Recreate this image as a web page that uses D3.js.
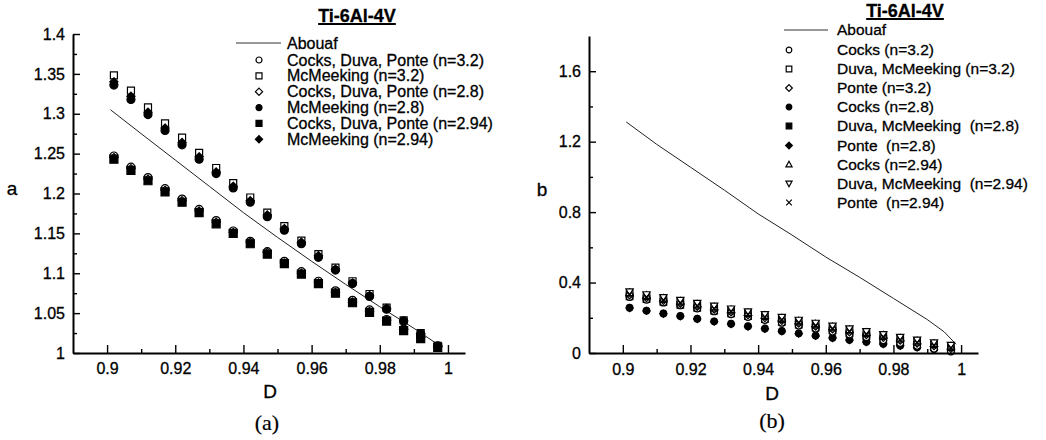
<!DOCTYPE html>
<html>
<head>
<meta charset="utf-8">
<script src="https://cdn.jsdelivr.net/npm/d3@7"></script>
<style>
  body { margin: 0; background: #fff; }
  svg { display: block; }
  text { font-family: "Liberation Sans", Arial, Helvetica, sans-serif; fill: #000;
         stroke: #000; stroke-width: 0.3px; }
</style>
</head>
<body>
<svg id="fig" width="1046" height="440"></svg>
<script>
// ---------------------------------------------------------------
// Data: relative density D and yield-surface parameters a, b
// ---------------------------------------------------------------
const D = [0.902, 0.907, 0.912, 0.917, 0.922, 0.927, 0.932, 0.937, 0.942, 0.947,
           0.952, 0.957, 0.962, 0.967, 0.972, 0.977, 0.982, 0.987, 0.992, 0.997];

// Abouaf reference curves
const abouafD_a = [0.901, 0.91, 0.92, 0.93, 0.94, 0.95, 0.96, 0.97, 0.98, 0.99, 0.998];
const abouafA   = [1.305, 1.275, 1.242, 1.209, 1.176, 1.145, 1.115, 1.086, 1.058, 1.031, 1.008];
const abouafD_b = [0.901, 0.91, 0.92, 0.93, 0.94, 0.95, 0.96, 0.97, 0.98, 0.99, 0.995, 0.9985];
const abouafB   = [1.312, 1.185, 1.055, 0.925, 0.79, 0.67, 0.545, 0.43, 0.31, 0.19, 0.12, 0.05];

// Panel (a): parameter a
const aCocks32  = [1.247, 1.233, 1.220, 1.206, 1.193, 1.180, 1.166, 1.153, 1.140, 1.127,
                   1.115, 1.102, 1.090, 1.078, 1.066, 1.054, 1.042, 1.030, 1.020, 1.009];
const aMcM32    = [1.348, 1.329, 1.308, 1.288, 1.270, 1.251, 1.232, 1.213, 1.195, 1.176,
                   1.159, 1.141, 1.124, 1.107, 1.090, 1.074, 1.057, 1.041, 1.025, 1.009];
const aCocks28  = [1.245, 1.231, 1.218, 1.204, 1.191, 1.178, 1.164, 1.151, 1.139, 1.126,
                   1.113, 1.100, 1.088, 1.076, 1.064, 1.052, 1.041, 1.029, 1.019, 1.008];
const aMcM28    = [1.336, 1.318, 1.299, 1.279, 1.261, 1.243, 1.225, 1.207, 1.189, 1.171,
                   1.154, 1.137, 1.120, 1.104, 1.087, 1.071, 1.055, 1.040, 1.024, 1.008];
const aCocks294 = [1.243, 1.229, 1.216, 1.202, 1.189, 1.176, 1.162, 1.150, 1.137, 1.124,
                   1.112, 1.099, 1.087, 1.075, 1.063, 1.051, 1.040, 1.028, 1.018, 1.007];
const aMcM294   = [1.340, 1.322, 1.302, 1.282, 1.264, 1.246, 1.227, 1.209, 1.191, 1.173,
                   1.156, 1.139, 1.122, 1.105, 1.088, 1.072, 1.056, 1.040, 1.024, 1.008];

// Panel (b): parameter b
const bCocks32  = [0.318, 0.302, 0.286, 0.270, 0.252, 0.236, 0.220, 0.204, 0.187, 0.171,
                   0.155, 0.138, 0.121, 0.105, 0.089, 0.072, 0.056, 0.040, 0.024, 0.008];
const bDuva32   = [0.338, 0.322, 0.306, 0.290, 0.273, 0.257, 0.241, 0.225, 0.209, 0.193,
                   0.177, 0.160, 0.144, 0.128, 0.112, 0.096, 0.080, 0.064, 0.049, 0.034];
const bPonte32  = [0.328, 0.312, 0.296, 0.280, 0.263, 0.247, 0.231, 0.215, 0.199, 0.183,
                   0.167, 0.150, 0.134, 0.118, 0.102, 0.086, 0.070, 0.054, 0.039, 0.024];
const bCocks28  = [0.257, 0.241, 0.225, 0.210, 0.195, 0.180, 0.166, 0.152, 0.139, 0.125,
                   0.112, 0.099, 0.087, 0.075, 0.064, 0.053, 0.043, 0.033, 0.023, 0.014];
const bDuva28   = [0.322, 0.306, 0.290, 0.274, 0.257, 0.241, 0.225, 0.209, 0.193, 0.177,
                   0.161, 0.144, 0.128, 0.112, 0.096, 0.080, 0.064, 0.048, 0.033, 0.018];
const bPonte28  = [0.255, 0.239, 0.223, 0.208, 0.193, 0.178, 0.164, 0.150, 0.137, 0.123,
                   0.110, 0.097, 0.085, 0.073, 0.062, 0.051, 0.041, 0.031, 0.021, 0.012];
const bCocks294 = [0.342, 0.326, 0.310, 0.294, 0.277, 0.261, 0.245, 0.229, 0.213, 0.197,
                   0.181, 0.164, 0.148, 0.132, 0.116, 0.100, 0.084, 0.068, 0.053, 0.038];
const bDuva294  = [0.348, 0.332, 0.316, 0.300, 0.283, 0.267, 0.251, 0.235, 0.219, 0.203,
                   0.187, 0.170, 0.154, 0.138, 0.122, 0.106, 0.090, 0.074, 0.059, 0.044];
const bPonte294 = [0.334, 0.318, 0.302, 0.286, 0.269, 0.253, 0.237, 0.221, 0.205, 0.189,
                   0.173, 0.156, 0.140, 0.124, 0.108, 0.092, 0.076, 0.060, 0.045, 0.030];

// Tick values and labels
const xMajor = [0.9, 0.92, 0.94, 0.96, 0.98, 1.0];
const xMinor = [0.91, 0.93, 0.95, 0.97, 0.99];
const xLabels = ["0.9", "0.92", "0.94", "0.96", "0.98", "1"];
const aMajor = [1, 1.05, 1.1, 1.15, 1.2, 1.25, 1.3, 1.35, 1.4];
const aMinor = [1.025, 1.075, 1.125, 1.175, 1.225, 1.275, 1.325, 1.375];
const aLabels = ["1", "1.05", "1.1", "1.15", "1.2", "1.25", "1.3", "1.35", "1.4"];
const bMajor = [0, 0.4, 0.8, 1.2, 1.6];
const bMinor = [0.2, 0.6, 1.0, 1.4];
const bLabels = ["0", "0.4", "0.8", "1.2", "1.6"];

const titleText = "Ti-6Al-4V";

// Series definitions (values, marker, filled) in drawing order
const seriesA = [
  { v: aCocks32,  m: "circle",  f: false },
  { v: aCocks28,  m: "diamond", f: false },
  { v: aCocks294, m: "square",  f: true  },
  { v: aMcM32,    m: "square",  f: false },
  { v: aMcM294,   m: "diamond", f: true  },
  { v: aMcM28,    m: "circle",  f: true  }
];
const legendA = [
  { name: "Cocks, Duva, Ponte (n=3.2)",  m: "circle",  f: false },
  { name: "McMeeking (n=3.2)",           m: "square",  f: false },
  { name: "Cocks, Duva, Ponte (n=2.8)",  m: "diamond", f: false },
  { name: "McMeeking (n=2.8)",           m: "circle",  f: true  },
  { name: "Cocks, Duva, Ponte (n=2.94)", m: "square",  f: true  },
  { name: "McMeeking (n=2.94)",          m: "diamond", f: true  }
];
const seriesB = [
  { v: bCocks28,  m: "circle",   f: true  },
  { v: bPonte28,  m: "diamond",  f: true  },
  { v: bDuva28,   m: "square",   f: true  },
  { v: bCocks32,  m: "circle",   f: false },
  { v: bPonte32,  m: "diamond",  f: false },
  { v: bDuva32,   m: "square",   f: false },
  { v: bCocks294, m: "triangle", f: false },
  { v: bDuva294,  m: "triDown",  f: false },
  { v: bPonte294, m: "cross",    f: false }
];
const legendB = [
  { name: "Cocks (n=3.2)",              m: "circle",   f: false },
  { name: "Duva, McMeeking (n=3.2)",    m: "square",   f: false },
  { name: "Ponte (n=3.2)",              m: "diamond",  f: false },
  { name: "Cocks (n=2.8)",              m: "circle",   f: true  },
  { name: "Duva, McMeeking  (n=2.8)",   m: "square",   f: true  },
  { name: "Ponte  (n=2.8)",             m: "diamond",  f: true  },
  { name: "Cocks (n=2.94)",             m: "triangle", f: false },
  { name: "Duva, McMeeking  (n=2.94)",  m: "triDown",  f: false },
  { name: "Ponte  (n=2.94)",            m: "cross",    f: false }
];

// ---------------------------------------------------------------
// Marker outlines, r = half size
// ---------------------------------------------------------------
const shapes = {
  circle:   r => `M${r},0A${r},${r} 0 1,1 ${-r},0A${r},${r} 0 1,1 ${r},0Z`,
  square:   r => `M${-r},${-r}H${r}V${r}H${-r}Z`,
  diamond:  r => { const k = r * 1.2; return `M0,${-k}L${k},0L0,${k}L${-k},0Z`; },
  triangle: r => `M0,${-r * 1.15}L${r * 1.1},${r * 0.85}L${-r * 1.1},${r * 0.85}Z`,
  triDown:  r => `M0,${r * 1.15}L${r * 1.1},${-r * 0.85}L${-r * 1.1},${-r * 0.85}Z`,
  cross:    r => `M${-r},${-r}L${r},${r}M${r},${-r}L${-r},${r}`
};

const svg = d3.select("#fig");

function marker(sel, m, f, r) {
  sel.attr("d", shapes[m](r))
     .attr("fill", (f && m !== "cross") ? "#000" : (m === "cross" ? "none" : "#fff"))
     .attr("stroke", "#000")
     .attr("stroke-width", 1.2);
}

function axes(g, x, y, yMajor, yMinor, yLabels, xPad) {
  const style = s => s.attr("font-size", 16)
    .attr("font-family", '"Liberation Sans", Arial, Helvetica, sans-serif');

  // minor ticks
  g.append("g").attr("transform", `translate(0,${y.range()[0]})`)
    .call(d3.axisBottom(x).tickValues(xMinor).tickSize(-4).tickSizeOuter(0).tickFormat(""))
    .call(s => s.select(".domain").remove());
  g.append("g").attr("transform", `translate(${x.range()[0]},0)`)
    .call(d3.axisLeft(y).tickValues(yMinor).tickSize(-4).tickSizeOuter(0).tickFormat(""))
    .call(s => s.select(".domain").remove());

  // major ticks with labels
  g.append("g").attr("transform", `translate(0,${y.range()[0]})`)
    .call(d3.axisBottom(x).tickValues(xMajor).tickSize(-8).tickSizeOuter(0)
      .tickPadding(xPad).tickFormat((d, i) => xLabels[i]))
    .call(style)
    .call(s => s.select(".domain").attr("stroke-width", 2));
  g.append("g").attr("transform", `translate(${x.range()[0]},0)`)
    .call(d3.axisLeft(y).tickValues(yMajor).tickSize(-7).tickSizeOuter(0)
      .tickPadding(8).tickFormat((d, i) => yLabels[i]))
    .call(style)
    .call(s => s.select(".domain").attr("stroke-width", 2));
  g.selectAll(".tick line").attr("stroke-width", 1.4);
}

function title(cx, baseline) {
  const t = svg.append("text").attr("x", cx).attr("y", baseline)
    .attr("text-anchor", "middle").attr("font-size", 18).attr("font-weight", "bold")
    .text(titleText);
  const w = t.node().getComputedTextLength();
  svg.append("line").attr("x1", cx - w / 2).attr("x2", cx + w / 2)
    .attr("y1", baseline + 2).attr("y2", baseline + 2)
    .attr("stroke", "#000").attr("stroke-width", 1.8);
}

function legend(items, x0Line, x1Line, xSym, xText, yLine, yRows, r, fs) {
  const g = svg.append("g");
  g.append("line").attr("x1", x0Line).attr("x2", x1Line)
    .attr("y1", yLine).attr("y2", yLine).attr("stroke", "#333").attr("stroke-width", 1);
  g.append("text").attr("x", xText).attr("y", yLine).attr("dy", "0.35em")
    .attr("font-size", fs).text("Abouaf");
  items.forEach((it, i) => {
    g.append("path").attr("transform", `translate(${xSym},${yRows[i]})`)
      .call(marker, it.m, it.f, r);
    g.append("text").attr("x", xText).attr("y", yRows[i]).attr("dy", "0.35em")
      .attr("font-size", fs).style("white-space", "pre").text(it.name);
  });
}

// ---------------------------------------------------------------
// Panel (a)
// ---------------------------------------------------------------
{
  const x = d3.scaleLinear().domain([0.89, 1.005]).range([73, 465]);
  const y = d3.scaleLinear().domain([1, 1.4]).range([353, 34]);
  const g = svg.append("g");

  g.append("path")
    .datum(abouafD_a.map((d, i) => [d, abouafA[i]]))
    .attr("d", d3.line().x(d => x(d[0])).y(d => y(d[1])))
    .attr("fill", "none").attr("stroke", "#222").attr("stroke-width", 1);

  seriesA.forEach(s => {
    const r = s.m === "square" ? (s.f ? 4 : 3.5) : (s.m === "diamond" ? 3.4 : 4);
    g.append("g").selectAll("path").data(D).join("path")
      .attr("transform", (d, i) => `translate(${x(d)},${y(s.v[i])})`)
      .call(marker, s.m, s.f, r);
  });

  axes(g, x, y, aMajor, aMinor, aLabels, 10);

  svg.append("text").attr("x", 12).attr("y", 195).attr("text-anchor", "middle")
    .attr("font-size", 19).text("a");
  svg.append("text").attr("x", 270).attr("y", 398).attr("text-anchor", "middle")
    .attr("font-size", 19).text("D");
  svg.append("text").attr("x", 267).attr("y", 430).attr("text-anchor", "middle")
    .attr("font-size", 22).style("stroke-width", "0.2px")
    .style("font-family", '"Liberation Serif", "Times New Roman", serif')
    .text("(a)");

  title(357, 22);
  legend(legendA, 236, 281, 259, 287, 43,
         [60, 75.8, 91.7, 107.6, 123.4, 139.2], 3, 16);
}

// ---------------------------------------------------------------
// Panel (b)
// ---------------------------------------------------------------
{
  const x = d3.scaleLinear().domain([0.89, 1.005]).range([589, 978]);
  const y = d3.scaleLinear().domain([0, 1.8]).range([353, 36]);
  const g = svg.append("g");

  g.append("path")
    .datum(abouafD_b.map((d, i) => [d, abouafB[i]]))
    .attr("d", d3.line().x(d => x(d[0])).y(d => y(d[1])))
    .attr("fill", "none").attr("stroke", "#222").attr("stroke-width", 1);

  seriesB.forEach(s => {
    const r = s.m === "cross" ? 2.5 : (s.m === "diamond" ? 3 : 3.3);
    g.append("g").selectAll("path").data(D).join("path")
      .attr("transform", (d, i) => `translate(${x(d)},${y(s.v[i])})`)
      .call(marker, s.m, s.f, r);
  });

  axes(g, x, y, bMajor, bMinor, bLabels, 11);

  svg.append("text").attr("x", 542).attr("y", 196).attr("text-anchor", "middle")
    .attr("font-size", 19).text("b");
  svg.append("text").attr("x", 772).attr("y", 400).attr("text-anchor", "middle")
    .attr("font-size", 19).text("D");
  svg.append("text").attr("x", 772).attr("y", 428).attr("text-anchor", "middle")
    .attr("font-size", 22).style("stroke-width", "0.2px")
    .style("font-family", '"Liberation Serif", "Times New Roman", serif')
    .text("(b)");

  title(905, 17);
  legend(legendB, 784, 828, 789, 837, 30,
         [50, 69, 88, 107, 126, 145.5, 164.5, 183.5, 202.5], 2.8, 15.5);
}
</script>
</body>
</html>
